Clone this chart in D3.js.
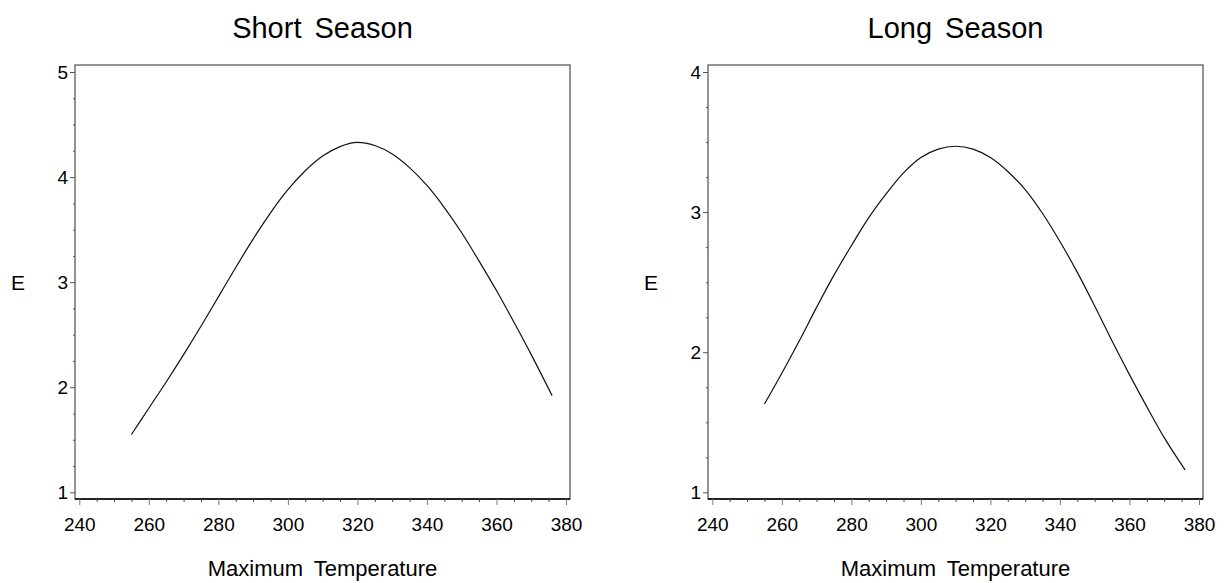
<!DOCTYPE html>
<html>
<head>
<meta charset="utf-8">
<script src="https://cdn.jsdelivr.net/npm/d3@7"></script>
<style>
  body { margin: 0; background: #fff; }
  text { font-family: Arial, "Liberation Sans", Helvetica, sans-serif; fill: #000; }
</style>
</head>
<body>
<div id="chart"></div>
<script>
// data
var temps = [255, 260, 265, 270, 275, 280, 285, 290, 295, 300, 305, 310, 315, 320,
             325, 330, 335, 340, 345, 350, 355, 360, 365, 370, 376];
var shortE = [1.55, 1.80, 2.05, 2.31, 2.58, 2.86, 3.14, 3.41, 3.66, 3.88, 4.06, 4.20, 4.29, 4.33,
              4.30, 4.22, 4.09, 3.92, 3.71, 3.47, 3.20, 2.92, 2.62, 2.31, 1.92];
var longE = [1.63, 1.85, 2.08, 2.32, 2.55, 2.76, 2.96, 3.13, 3.28, 3.39, 3.45, 3.47, 3.45, 3.39,
             3.29, 3.16, 2.99, 2.79, 2.57, 2.33, 2.08, 1.84, 1.61, 1.39, 1.16];
var xTicks = [240, 260, 280, 300, 320, 340, 360, 380];
var shortYTicks = [1, 2, 3, 4, 5];
var longYTicks = [1, 2, 3, 4];

var svgWidth = 1227;
var svgHeight = 583;

var svg = d3.select("#chart")
  .append("svg")
  .attr("width", svgWidth)
  .attr("height", svgHeight);

var panels = [
  { title: "Short Season", values: shortE, yTicks: shortYTicks, left: 75, right: 570, xLo: 79.3, xHi: 566 },
  { title: "Long Season", values: longE, yTicks: longYTicks, left: 708, right: 1203, xLo: 712.3, xHi: 1199 }
];

var frameTop = 65, frameBottom = 499;
var yLo = 492.3, yHi = 72;

function minorTicks(ticks, step) {
  var out = [];
  for (var v = ticks[0]; v < ticks[ticks.length - 1] - 1e-9; v += step) {
    for (var k = 1; k < 4; k++) out.push(v + k * step / 4);
  }
  return out;
}

panels.forEach(function(p) {
  var x = d3.scaleLinear().domain([240, 380]).range([p.xLo, p.xHi]);
  var y = d3.scaleLinear()
    .domain([p.yTicks[0], p.yTicks[p.yTicks.length - 1]])
    .range([yLo, yHi]);

  var g = svg.append("g");

  // frame
  g.append("rect")
    .attr("x", p.left)
    .attr("y", frameTop)
    .attr("width", p.right - p.left)
    .attr("height", frameBottom - frameTop)
    .attr("fill", "none")
    .attr("stroke", "#5a5a5a")
    .attr("stroke-width", 1.3);

  // x axis
  var xAxis = g.append("g")
    .attr("transform", `translate(0, ${frameBottom})`)
    .call(d3.axisBottom(x).tickValues(xTicks).tickSize(6).tickPadding(13).tickFormat(d3.format("d")));
  xAxis.select(".domain").attr("d", `M${p.left},0H${p.right}`).attr("stroke", "#000").attr("stroke-width", 1.6);
  xAxis.selectAll(".tick line").attr("stroke", "#777");
  xAxis.selectAll("text").style("font-size", "19px");

  var xMinor = g.append("g")
    .attr("transform", `translate(0, ${frameBottom})`)
    .call(d3.axisBottom(x).tickValues(minorTicks(xTicks, 20)).tickSize(3).tickFormat(""));
  xMinor.select(".domain").remove();
  xMinor.selectAll(".tick line").attr("stroke", "#444");

  // y axis
  var yAxis = g.append("g")
    .attr("transform", `translate(${p.left}, 0)`)
    .call(d3.axisLeft(y).tickValues(p.yTicks).tickSize(5).tickPadding(2).tickFormat(d3.format("d")));
  yAxis.select(".domain").remove();
  yAxis.selectAll(".tick line").attr("stroke", "#555");
  yAxis.selectAll("text").style("font-size", "19px");

  var yMinor = g.append("g")
    .attr("transform", `translate(${p.left}, 0)`)
    .call(d3.axisLeft(y).tickValues(minorTicks(p.yTicks, 1)).tickSize(2).tickFormat(""));
  yMinor.select(".domain").remove();
  yMinor.selectAll(".tick line").attr("stroke", "#555");

  // curve
  var line = d3.line()
    .x(function(d, i) { return x(temps[i]); })
    .y(function(d) { return y(d); })
    .curve(d3.curveMonotoneX);

  g.append("path")
    .datum(p.values)
    .attr("d", line)
    .attr("fill", "none")
    .attr("stroke", "#111")
    .attr("stroke-width", 1.2);

  var cx = (p.left + p.right) / 2;

  // titles
  g.append("text")
    .attr("x", cx)
    .attr("y", 38)
    .attr("text-anchor", "middle")
    .style("font-size", "29px")
    .style("word-spacing", "5px")
    .text(p.title);

  g.append("text")
    .attr("x", cx)
    .attr("y", 576)
    .attr("text-anchor", "middle")
    .style("font-size", "22px")
    .style("word-spacing", "5px")
    .text("Maximum Temperature");

  g.append("text")
    .attr("x", p.left - 57)
    .attr("y", 290)
    .attr("text-anchor", "middle")
    .style("font-size", "21px")
    .text("E");
});
</script>
</body>
</html>
